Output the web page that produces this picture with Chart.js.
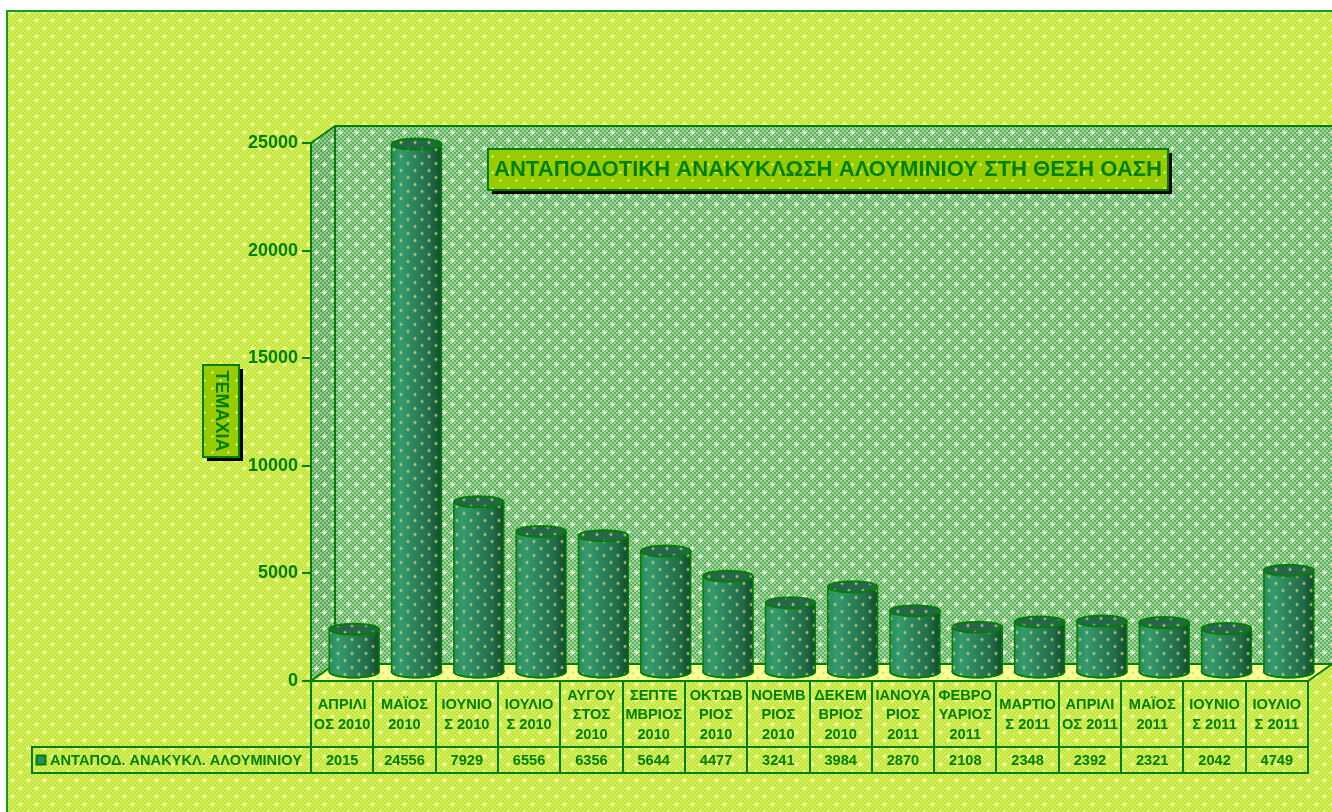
<!DOCTYPE html>
<html><head><meta charset="utf-8">
<style>html,body{margin:0;padding:0;background:#fff;overflow:hidden}#w{width:1332px;height:812px;position:relative}</style>
<script src="https://cdn.jsdelivr.net/npm/chart.js@4"></script>
</head><body><div id="w"><canvas id="c" width="1332" height="812"></canvas></div>
<script>
const categories=[["ΑΠΡΙΛΙ","ΟΣ 2010"],["ΜΑΪΟΣ","2010"],["ΙΟΥΝΙΟ","Σ 2010"],["ΙΟΥΛΙΟ","Σ 2010"],["ΑΥΓΟΥ","ΣΤΟΣ","2010"],["ΣΕΠΤΕ","ΜΒΡΙΟΣ","2010"],["ΟΚΤΩΒ","ΡΙΟΣ","2010"],["ΝΟΕΜΒ","ΡΙΟΣ","2010"],["ΔΕΚΕΜ","ΒΡΙΟΣ","2010"],["ΙΑΝΟΥΑ","ΡΙΟΣ","2011"],["ΦΕΒΡΟ","ΥΑΡΙΟΣ","2011"],["ΜΑΡΤΙΟ","Σ 2011"],["ΑΠΡΙΛΙ","ΟΣ 2011"],["ΜΑΪΟΣ","2011"],["ΙΟΥΝΙΟ","Σ 2011"],["ΙΟΥΛΙΟ","Σ 2011"]];
const values=[2015,24556,7929,6556,6356,5644,4477,3241,3984,2870,2108,2348,2392,2321,2042,4749];
const seriesName="ΑΝΤΑΠΟΔ. ΑΝΑΚΥΚΛ. ΑΛΟΥΜΙΝΙΟΥ";
const chartTitle="ΑΝΤΑΠΟΔΟΤΙΚΗ ΑΝΑΚΥΚΛΩΣΗ ΑΛΟΥΜΙΝΙΟΥ ΣΤΗ ΘΕΣΗ ΟΑΣΗ";
const yTitle="ΤΕΜΑΧΙΑ";
const GREEN="#008000",FONT='"Liberation Sans",Arial,sans-serif';
const DX=24,DY=17,BX=12,BY=-8.5;

const cv=document.getElementById('c'),g0=cv.getContext('2d');
function tile(a,b,star,checker,size,big){
  size=size||16;
  const t=document.createElement('canvas');t.width=t.height=size;const x=t.getContext('2d');
  x.fillStyle=a;x.fillRect(0,0,size,size);
  if(checker){x.fillStyle=b;for(let j=0;j<size;j+=2)for(let i=0;i<size;i+=2)if(((i+j)/2)%2==0)x.fillRect(i,j,2,2);}
  const s=(px,py)=>{x.fillStyle=star;
    if(big){x.fillRect(px-2,py,5,1);x.fillRect(px,py-2,1,5);x.globalAlpha=.55;x.fillRect(px-1,py-1,3,3);x.globalAlpha=1;}
    else{x.fillRect(px-1,py,3,1);x.fillRect(px,py-1,1,3);}};
  const h=size/2;
  s(h/2,h/2);s(h/2+h,h/2+h);
  return g0.createPattern(t,'repeat');
}
const pBg=tile("#C0E53E","#D4EE58","#FFFFB0",true,16,true);
const pWall=tile("#5CAF60","#A2D69A","#FFFFF0",true,16,true);
const pSide=tile("#55A85A","#97CE90","#FFFFF0",true,16,true);
const pFloor=tile("#FFFF99","#F6F68C","#CDE64E",false,10);
const pBox=tile("#99CC00","#99CC00","#D9EE80",false);
function dotTile(){
  const t=document.createElement('canvas');t.width=t.height=14;const x=t.getContext('2d');
  const s=(px,py)=>{x.fillStyle="rgba(210,210,130,.7)";x.fillRect(px,py,2,2);x.fillStyle="rgba(210,210,130,.28)";x.fillRect(px-1,py,4,2);x.fillRect(px,py-1,2,4);};
  s(3,3);s(10,10);
  return g0.createPattern(t,'repeat');
}
const pDots=dotTile();

const deco={id:'deco',
 beforeDraw(ch){
  const c=ch.ctx,a=ch.chartArea,W=ch.width,H=ch.height;
  c.save();
  c.fillStyle="#fff";c.fillRect(0,0,W,H);
  c.fillStyle=pBg;c.fillRect(7,11,W,H);
  c.fillStyle="#149A28";c.fillRect(6,10,W,2);c.fillRect(6,10,2,H);
  const L=a.left,R=a.right,T=a.top,B=a.bottom;
  c.fillStyle=pWall;c.fillRect(L+DX,T-DY,R-L+4,B-T);
  c.fillStyle=pSide;c.beginPath();c.moveTo(L,T);c.lineTo(L+DX,T-DY);c.lineTo(L+DX,B-DY);c.lineTo(L,B);c.closePath();c.fill();
  c.fillStyle=pFloor;c.beginPath();c.moveTo(L,B);c.lineTo(L+DX,B-DY);c.lineTo(R+DX,B-DY);c.lineTo(R,B);c.closePath();c.fill();
  c.strokeStyle=GREEN;c.lineWidth=2;c.beginPath();
  c.moveTo(L,T);c.lineTo(L+DX,T-DY);c.lineTo(R+DX,T-DY);
  c.moveTo(L+DX,T-DY);c.lineTo(L+DX,B-DY);c.lineTo(R+DX,B-DY);
  c.moveTo(L,B);c.lineTo(L+DX,B-DY);c.moveTo(R,B);c.lineTo(R+DX,B-DY);
  c.stroke();c.restore();
 },
 beforeDatasetsDraw(ch){
  const c=ch.ctx;c.save();c.translate(BX,BY);
  ch.getDatasetMeta(0).data.forEach(e=>{
   const w=e.width/2;
   c.fillStyle="#1E7350";c.strokeStyle=GREEN;c.lineWidth=2;
   c.beginPath();c.ellipse(e.x,e.base,w,6,0,0,Math.PI*2);c.fill();c.stroke();
  });
 },
 afterDatasetsDraw(ch){
  const c=ch.ctx;
  ch.getDatasetMeta(0).data.forEach(e=>{
   const w=e.width/2,x=e.x,y=e.y,b=e.base;
   c.beginPath();c.moveTo(x-w,y);c.lineTo(x-w,b);c.ellipse(x,b,w,6,0,Math.PI,0,true);c.lineTo(x+w,y);c.closePath();
   const gr=c.createLinearGradient(x-w,0,x+w,0);
   gr.addColorStop(0,"#2A8A5E");gr.addColorStop(.18,"#349B6E");gr.addColorStop(.5,"#2A8059");gr.addColorStop(.78,"#206C49");gr.addColorStop(.92,"#165633");gr.addColorStop(1,"#125030");
   c.fillStyle=gr;c.fill();
   c.fillStyle=pDots;c.fill();
   c.strokeStyle=GREEN;c.lineWidth=1.5;c.beginPath();c.moveTo(x-w,y);c.lineTo(x-w,b);c.ellipse(x,b,w,6,0,Math.PI,0,true);c.lineTo(x+w,y);c.stroke();
   c.beginPath();c.ellipse(x,y,w,5.5,0,0,Math.PI*2);
   c.fillStyle="#26664B";c.fill();c.fillStyle=pDots;c.fill();
   c.strokeStyle=GREEN;c.lineWidth=2;c.stroke();
  });
  c.restore();
 },
 afterDraw(ch){
  const c=ch.ctx,xs=ch.scales.x,a=ch.chartArea;
  c.save();
  const rowTop=747,rowBot=773,tl=32;
  c.strokeStyle=GREEN;c.lineWidth=2;c.beginPath();
  c.moveTo(tl-1,rowTop);c.lineTo(a.right+1,rowTop);c.moveTo(tl-1,rowBot);c.lineTo(a.right+1,rowBot);
  c.moveTo(tl,rowTop);c.lineTo(tl,rowBot);
  const step=(a.right-a.left)/categories.length;
  for(let i=0;i<=categories.length;i++){const x=Math.round(a.left+i*step);c.moveTo(x,a.bottom);c.lineTo(x,rowBot);}
  c.stroke();
  c.fillStyle=GREEN;c.textAlign='center';c.textBaseline='middle';c.font='bold 14.6px '+FONT;
  categories.forEach((lines,i)=>{
   const x=xs.getPixelForValue(i),y0=715.3-(lines.length-1)*19.7/2;
   lines.forEach((t,k)=>c.fillText(t,x,y0+k*19.7));
   c.fillText(String(values[i]),x,761);
  });
  c.textAlign='left';c.fillText(seriesName,50,761);
  c.fillStyle="#2E8B6A";c.fillRect(37,756,8,8);c.strokeStyle=GREEN;c.lineWidth=2;c.strokeRect(36.5,755.5,9,9);
  box(c,488,149,680,41);
  c.fillStyle=GREEN;c.font='bold 22.1px '+FONT;c.textAlign='center';c.textBaseline='middle';
  c.fillText(chartTitle,828,169.5);
  box(c,203,365,36,92);
  c.translate(221,411);c.rotate(Math.PI/2);c.fillStyle=GREEN;c.font='bold 18px '+FONT;c.fillText(yTitle,0,0.5);
  c.restore();
 }
};
function box(c,x,y,w,h){
  c.fillStyle="#000";c.fillRect(x+4,y+4,w,h);
  c.fillStyle=pBox;c.fillRect(x,y,w,h);
  c.strokeStyle=GREEN;c.lineWidth=2;c.strokeRect(x,y,w,h);
}
new Chart(cv,{type:'bar',
 data:{labels:categories,datasets:[{label:seriesName,data:values,backgroundColor:"#2A8A5E",borderWidth:0,barPercentage:0.8,categoryPercentage:1}]},
 plugins:[deco],
 options:{responsive:false,animation:false,
  layout:{padding:{left:231,top:143,right:24,bottom:39}},
  plugins:{legend:{display:false},title:{display:false},tooltip:{enabled:false}},
  scales:{
   x:{afterFit(s){s.height=92;},
      grid:{display:false},border:{color:GREEN,width:2},ticks:{display:false}},
   y:{min:0,max:25000,afterFit(s){s.width=80;},
      grid:{drawOnChartArea:false,drawTicks:true,tickLength:9,color:GREEN,lineWidth:2},
      border:{color:GREEN,width:2},
      ticks:{stepSize:5000,color:GREEN,padding:4,callback:v=>String(v),font:{family:FONT,weight:'bold',size:18}}}
  }}});
</script></body></html>
